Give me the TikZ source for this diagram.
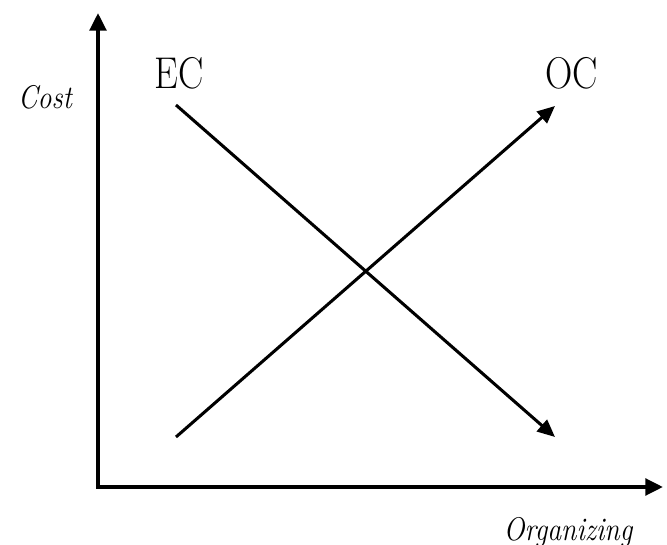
\documentclass[tikz,border=0pt]{standalone}
\usepackage{fontspec}
\usepackage{tikz}
\usetikzlibrary{arrows.meta, positioning}

\begin{document}
\begin{tikzpicture}[x=0.03cm, y=-0.03cm,
    axis/.style={line width=3.3pt, -{Triangle[length=15pt, width=14pt]}},
    curve/.style={line width=2.6pt, -{Triangle[length=15pt, width=13pt]}},
    bigtag/.style={font=\fontsize{38}{42}\selectfont\addfontfeature{FakeBold=0.8}, xscale=0.85},
    axtag/.style={font=\fontsize{28}{32}\selectfont\itshape\addfontfeature{FakeBold=0.5}, xscale=0.85}]

\useasboundingbox (0,0) rectangle (667,545);

% Axes
\coordinate (origin) at (98,487);
\coordinate (ytop)   at (98,13);
\coordinate (xend)   at (663,487);
\draw [axis] ([yshift=-1.6pt]origin) -- (ytop);
\draw [axis] ([xshift=-1.6pt]origin) -- (xend);

% Cost curves
\coordinate (ecstart) at (176,105);
\coordinate (ecend)   at (555,437);
\coordinate (ocstart) at (176,437);
\coordinate (ocend)   at (555,106);
\draw [curve] (ecstart) -- (ecend);
\draw [curve] (ocstart) -- (ocend);

% Labels
\node (ec)   [bigtag] at (179,73)  {EC};
\node (oc)   [bigtag] at (572,73)  {OC};
\node (cost) [axtag]  at (45,97)   {Cost};
\node (org)  [axtag]  at (568,532) {Organizing};

\end{tikzpicture}
\end{document}
